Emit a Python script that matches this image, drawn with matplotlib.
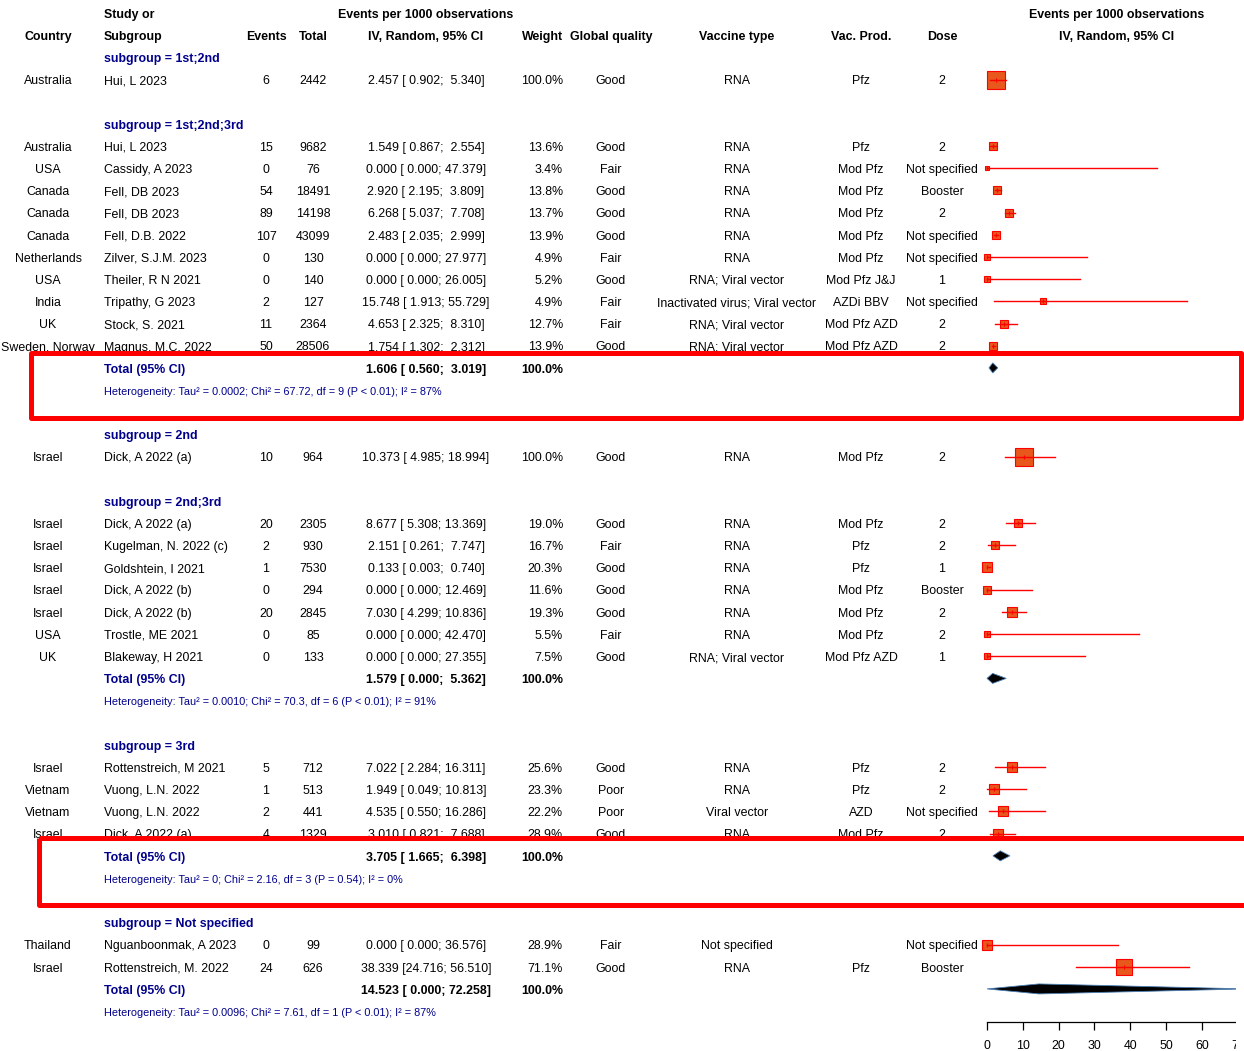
import matplotlib
matplotlib.use("Agg")
import matplotlib.pyplot as plt
from matplotlib.patches import Polygon, Rectangle

plt.rcParams['font.family'] = ['Liberation Sans', 'DejaVu Sans']

# subgroups in plotting order
subgroups = ["1st;2nd", "1st;2nd;3rd", "2nd", "2nd;3rd", "3rd", "Not specified"]

# one entry per study
group = [0,
         1, 1, 1, 1, 1, 1, 1, 1, 1, 1,
         2,
         3, 3, 3, 3, 3, 3, 3,
         4, 4, 4, 4,
         5, 5]
country = ["Australia",
           "Australia", "USA", "Canada", "Canada", "Canada", "Netherlands", "USA", "India", "UK",
           "Sweden, Norway",
           "Israel",
           "Israel", "Israel", "Israel", "Israel", "Israel", "USA", "UK",
           "Israel", "Vietnam", "Vietnam", "Israel",
           "Thailand", "Israel"]
study = ["Hui, L 2023",
         "Hui, L 2023", "Cassidy, A 2023", "Fell, DB 2023", "Fell, DB 2023", "Fell, D.B. 2022",
         "Zilver, S.J.M. 2023", "Theiler, R N 2021", "Tripathy, G 2023", "Stock, S. 2021",
         "Magnus, M.C. 2022",
         "Dick, A 2022 (a)",
         "Dick, A 2022 (a)", "Kugelman, N. 2022 (c)", "Goldshtein, I 2021", "Dick, A 2022 (b)",
         "Dick, A 2022 (b)", "Trostle, ME 2021", "Blakeway, H 2021",
         "Rottenstreich, M 2021", "Vuong, L.N. 2022", "Vuong, L.N. 2022", "Dick, A 2022 (a)",
         "Nguanboonmak, A 2023", "Rottenstreich, M. 2022"]
events = [6,
          15, 0, 54, 89, 107, 0, 0, 2, 11, 50,
          10,
          20, 2, 1, 0, 20, 0, 0,
          5, 1, 2, 4,
          0, 24]
total = [2442,
         9682, 76, 18491, 14198, 43099, 130, 140, 127, 2364, 28506,
         964,
         2305, 930, 7530, 294, 2845, 85, 133,
         712, 513, 441, 1329,
         99, 626]
est = [2.457,
       1.549, 0.000, 2.920, 6.268, 2.483, 0.000, 0.000, 15.748, 4.653, 1.754,
       10.373,
       8.677, 2.151, 0.133, 0.000, 7.030, 0.000, 0.000,
       7.022, 1.949, 4.535, 3.010,
       0.000, 38.339]
lower = [0.902,
         0.867, 0.000, 2.195, 5.037, 2.035, 0.000, 0.000, 1.913, 2.325, 1.302,
         4.985,
         5.308, 0.261, 0.003, 0.000, 4.299, 0.000, 0.000,
         2.284, 0.049, 0.550, 0.821,
         0.000, 24.716]
upper = [5.340,
         2.554, 47.379, 3.809, 7.708, 2.999, 27.977, 26.005, 55.729, 8.310, 2.312,
         18.994,
         13.369, 7.747, 0.740, 12.469, 10.836, 42.470, 27.355,
         16.311, 10.813, 16.286, 7.688,
         36.576, 56.510]
weight = [100.0,
          13.6, 3.4, 13.8, 13.7, 13.9, 4.9, 5.2, 4.9, 12.7, 13.9,
          100.0,
          19.0, 16.7, 20.3, 11.6, 19.3, 5.5, 7.5,
          25.6, 23.3, 22.2, 28.9,
          28.9, 71.1]
quality = ["Good",
           "Good", "Fair", "Good", "Good", "Good", "Fair", "Good", "Fair", "Fair", "Good",
           "Good",
           "Good", "Fair", "Good", "Good", "Good", "Fair", "Good",
           "Good", "Poor", "Poor", "Good",
           "Fair", "Good"]
vac_type = ["RNA",
            "RNA", "RNA", "RNA", "RNA", "RNA", "RNA", "RNA; Viral vector",
            "Inactivated virus; Viral vector", "RNA; Viral vector", "RNA; Viral vector",
            "RNA",
            "RNA", "RNA", "RNA", "RNA", "RNA", "RNA", "RNA; Viral vector",
            "RNA", "RNA", "Viral vector", "RNA",
            "Not specified", "RNA"]
vac_prod = ["Pfz",
            "Pfz", "Mod Pfz", "Mod Pfz", "Mod Pfz", "Mod Pfz", "Mod Pfz", "Mod Pfz J&J",
            "AZDi BBV", "Mod Pfz AZD", "Mod Pfz AZD",
            "Mod Pfz",
            "Mod Pfz", "Pfz", "Pfz", "Mod Pfz", "Mod Pfz", "Mod Pfz", "Mod Pfz AZD",
            "Pfz", "Pfz", "AZD", "Mod Pfz",
            "", "Pfz"]
dose = ["2",
        "2", "Not specified", "Booster", "2", "Not specified", "Not specified", "1",
        "Not specified", "2", "2",
        "2",
        "2", "2", "1", "Booster", "2", "2", "1",
        "2", "2", "Not specified", "2",
        "Not specified", "Booster"]

# pooled random-effects results per subgroup (None when only one study)
pooled_est = [None, 1.606, None, 1.579, 3.705, 14.523]
pooled_lo = [None, 0.560, None, 0.000, 1.665, 0.000]
pooled_hi = [None, 3.019, None, 5.362, 6.398, 72.258]
het = [None,
       "Heterogeneity: Tau² = 0.0002; Chi² = 67.72, df = 9 (P < 0.01); I² = 87%",
       None,
       "Heterogeneity: Tau² = 0.0010; Chi² = 70.3, df = 6 (P < 0.01); I² = 91%",
       "Heterogeneity: Tau² = 0; Chi² = 2.16, df = 3 (P = 0.54); I² = 0%",
       "Heterogeneity: Tau² = 0.0096; Chi² = 7.61, df = 1 (P < 0.01); I² = 87%"]

W, H = 1244, 1051
ROW0, PITCH = 13, 22.18
AXIS_Y = 1022
FS = 8.9
TXT_DY = 1.8 / PITCH
BLUE = "darkblue"

fig = plt.figure(figsize=(W / 100, H / 100), dpi=100)

# text table: x in pixels, y in rows
ax = fig.add_axes([0, 0, 1, 1])
ax.set_xlim(0, W)
ax.set_ylim((H - ROW0) / PITCH, -ROW0 / PITCH)
ax.axis("off")

# forest panel: x in events per 1000, same rows
fa = fig.add_axes([987 / W, (H - AXIS_Y) / H, (1237.8 - 987) / W, AXIS_Y / H])
fa.set_xlim(0, 70)
fa.set_ylim((AXIS_Y - ROW0) / PITCH, -ROW0 / PITCH)
for s in ["top", "left", "right"]:
    fa.spines[s].set_visible(False)
fa.spines["bottom"].set_linewidth(0.9)
fa.set_yticks([])
fa.set_xticks(range(0, 80, 10))
fa.tick_params(axis="x", length=5.8, width=0.9, pad=7.5, labelsize=FS)
fa.patch.set_visible(False)


def cell(x, row, s, ha="center", **kw):
    ax.text(x, row + TXT_DY, s, ha=ha, va="center", fontsize=FS, **kw)


# column headers
cell(104, 0, "Study or", ha="left", fontweight="bold")
cell(426, 0, "Events per 1000 observations", fontweight="bold")
cell(1117, 0, "Events per 1000 observations", fontweight="bold")
for x, s, ha in [(48, "Country", "center"), (104, "Subgroup", "left"),
                 (266, "Events", "center"), (313, "Total", "center"),
                 (426, "IV, Random, 95% CI", "center"), (563, "Weight", "right"),
                 (611, "Global quality", "center"), (737, "Vaccine type", "center"),
                 (861, "Vac. Prod.", "center"), (942, "Dose", "center"),
                 (1117, "IV, Random, 95% CI", "center")]:
    cell(x, 1, s, ha=ha, fontweight="bold")


def ci_text(e, lo, hi):
    return f"{e:.3f} [{lo:6.3f}; {hi:6.3f}]"


row = 2
for g, name in enumerate(subgroups):
    cell(104, row, f"subgroup = {name}", ha="left", fontweight="bold", color=BLUE)
    row += 1
    for i in [k for k in range(len(group)) if group[k] == g]:
        cell(48, row, country[i])
        cell(104, row, study[i], ha="left")
        cell(266, row, str(events[i]))
        cell(313, row, str(total[i]))
        cell(426, row, ci_text(est[i], lower[i], upper[i]))
        cell(563, row, f"{weight[i]:.1f}%", ha="right")
        cell(611, row, quality[i])
        cell(737, row, vac_type[i])
        cell(861, row, vac_prod[i])
        cell(942, row, dose[i])

        side = 16 * (weight[i] / 100) ** 0.5 + 2
        fa.plot(est[i], row, marker="s", ms=side * 0.72, mfc="#e8581c", mec="red",
                mew=0.8, clip_on=False, zorder=3)
        fa.plot([lower[i], upper[i]], [row, row], color="red", lw=1.0,
                clip_on=False, zorder=4)
        fa.plot(est[i], row, marker="|", ms=3.5, color="red", mew=0.9,
                clip_on=False, zorder=4)
        row += 1
    if pooled_est[g] is None:
        row += 1
        continue
    cell(104, row, "Total (95% CI)", ha="left", fontweight="bold", color=BLUE)
    cell(426, row, ci_text(pooled_est[g], pooled_lo[g], pooled_hi[g]), fontweight="bold")
    cell(563, row, "100.0%", ha="right", fontweight="bold")
    h = 5 / PITCH
    fa.add_patch(Polygon([(pooled_lo[g], row), (pooled_est[g], row - h),
                          (pooled_hi[g], row), (pooled_est[g], row + h)],
                         closed=True, fc="black", ec="#4a7fb5", lw=0.6,
                         clip_on=False, zorder=3))
    row += 1
    ax.text(104, row + TXT_DY, het[g], ha="left", va="center", fontsize=7.8, color=BLUE)
    row += 2

# overlay: trimmed right margin and highlight frames around two subgroup summaries
ov = fig.add_axes([0, 0, 1, 1], zorder=10)
ov.set_xlim(0, W)
ov.set_ylim(H, 0)
ov.axis("off")
ov.add_patch(Rectangle((1235.5, 0), W - 1235.5, H, fc="white", ec="none"))
ov.add_patch(Rectangle((30.5, 352.5), 1241 - 30.5, 417.5 - 352.5, fill=False,
                       ec="red", lw=3.6, joinstyle="round"))
ov.add_patch(Rectangle((38.5, 837.5), 1270 - 38.5, 904.5 - 837.5, fill=False,
                       ec="red", lw=3.6, joinstyle="round"))

fig.savefig("out.png", dpi=100)
